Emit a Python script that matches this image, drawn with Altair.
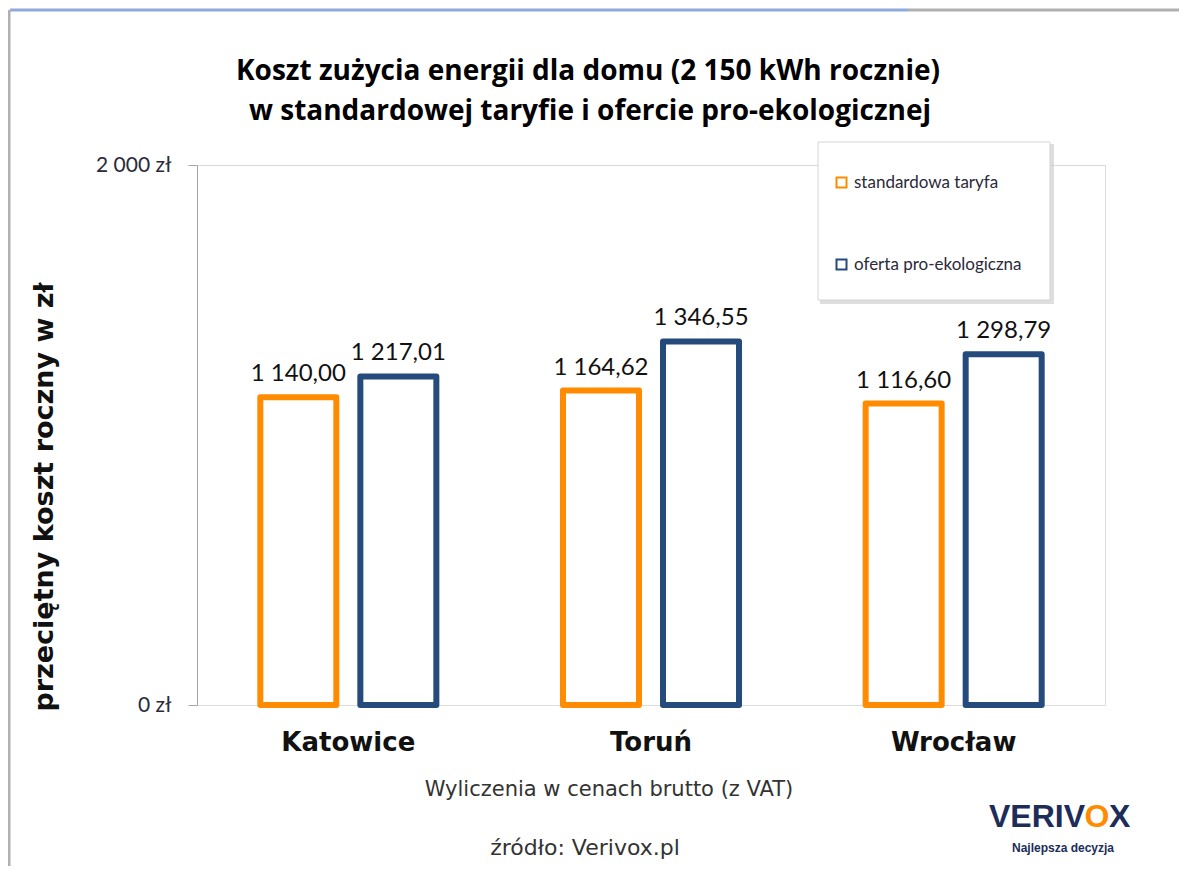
import altair as alt
import pandas as pd

# ---- data ----
cities = ["Katowice", "Toruń", "Wrocław"]
series_names = ["standardowa taryfa", "oferta pro-ekologiczna"]
standard_values = [1140.00, 1164.62, 1116.60]
eco_values = [1217.01, 1346.55, 1298.79]
y_ticks = [0, 2000]

title_lines = ["Koszt zużycia energii dla domu (2 150 kWh rocznie)",
               "w standardowej taryfie  i ofercie pro-ekologicznej"]
y_title = "przeciętny koszt roczny w zł"
note_text = "Wyliczenia w cenach brutto (z VAT)"
source_text = "źródło: Verivox.pl"

ORANGE = "#FF8C00"
BLUE = "#254A7C"
NAVY = "#1C2D5A"


def pl_fmt(v):
    return f"{v:,.2f}".replace(",", " ").replace(".", ",")


rows = []
for c, s, e in zip(cities, standard_values, eco_values):
    rows.append({"city": c, "series": series_names[0], "value": s, "label": pl_fmt(s)})
    rows.append({"city": c, "series": series_names[1], "value": e, "label": pl_fmt(e)})
df = pd.DataFrame(rows)

one = pd.DataFrame({"k": [0]})

W, H = 908, 540

x_enc = alt.X("city:N", sort=cities,
              scale=alt.Scale(paddingInner=0, paddingOuter=0),
              axis=alt.Axis(title=None, domain=False, ticks=False, labelAngle=0,
                            labelFont="DejaVu Sans", labelFontWeight="bold",
                            labelFontSize=26, labelColor="#111", labelPadding=24))
xo_enc = alt.XOffset("series:N", sort=series_names,
                     scale=alt.Scale(paddingInner=0.24, paddingOuter=0.633))
y_enc = alt.Y("value:Q", scale=alt.Scale(domain=[0, 2000]),
              axis=alt.Axis(title=None, values=y_ticks,
                            labelExpr="replace(format(datum.value, ','), ',', ' ') + ' zł'",
                            labelFont="Lato", labelFontSize=21, labelColor="#2a2a3a",
                            domainColor="#a6a6a6", tickColor="#a6a6a6", tickSize=9,
                            labelPadding=17,
                            gridColor="#d9d9d9",
                            gridOpacity={"condition": {"test": "datum.value === 0", "value": 0}, "value": 1}))

# legend box (drawn beneath legend)
shadow = alt.Chart(one).mark_rect(fill="#c8c8c8", opacity=0.6).encode(
    x=alt.value(623), x2=alt.value(857), y=alt.value(-21), y2=alt.value(139))
box = alt.Chart(one).mark_rect(fill="white", stroke="#d4d4d4", strokeWidth=1).encode(
    x=alt.value(621), x2=alt.value(853), y=alt.value(-23), y2=alt.value(135))

bars = alt.Chart(df).mark_bar(fill="white", strokeWidth=6, strokeJoin="round").encode(
    x=x_enc, xOffset=xo_enc, y=y_enc,
    stroke=alt.Stroke("series:N", sort=series_names,
                      scale=alt.Scale(domain=series_names, range=[ORANGE, BLUE]),
                      legend=alt.Legend(title=None, orient="none", legendX=636, legendY=9,
                                        padding=0, rowPadding=63, symbolType="square",
                                        symbolSize=100, symbolStrokeWidth=2,
                                        symbolFillColor="white", labelFont="Lato",
                                        labelFontSize=17, labelColor="#2a2a3a",
                                        labelOffset=4, labelLimit=400)),
)

labels = alt.Chart(df).mark_text(font="Lato", fontSize=24, color="#111",
                                 baseline="alphabetic", dy=-16).encode(
    x=alt.X("city:N", sort=cities), xOffset=alt.XOffset("series:N", sort=series_names),
    y="value:Q", text="label:N")


def txt(text, x, y, **kw):
    return alt.Chart(one).mark_text(text=text, **kw).encode(x=alt.value(x), y=alt.value(y))


t1 = txt(title_lines[0], 391, -93, font="Open Sans", fontSize=28, fontWeight="bold",
         color="#000", align="center", baseline="middle")
t2 = txt(title_lines[1], 393, -53, font="Open Sans", fontSize=28, fontWeight="bold",
         color="#000", align="center", baseline="middle")
ytitle = txt(y_title, -152, 332, font="DejaVu Sans", fontSize=27, fontWeight="bold",
             color="#111", align="center", baseline="middle", angle=270)
note = txt(note_text, 412, 625, font="DejaVu Sans", fontSize=21, color="#333",
           align="center", baseline="middle")
src = txt(source_text, 388, 683, font="DejaVu Sans", fontSize=22, color="#333",
          align="center", baseline="middle")
logo1 = txt("VERIV", 888, 662, font="Liberation Sans", fontSize=32, fontWeight="bold",
            color=NAVY, align="right", baseline="alphabetic")
logo2 = txt("O", 900, 662, font="Liberation Sans", fontSize=32, fontWeight="bold",
            color=ORANGE, align="center", baseline="alphabetic")
logo3 = txt("X", 912, 662, font="Liberation Sans", fontSize=32, fontWeight="bold",
            color=NAVY, align="left", baseline="alphabetic")
tag = txt("Najlepsza decyzja", 866, 687, font="Liberation Sans", fontSize=12,
          fontWeight="bold", color=NAVY, align="center", baseline="alphabetic")

frame_top_blue = alt.Chart(one).mark_rule(color="#8eaadb", strokeWidth=3).encode(
    x=alt.value(-187), x2=alt.value(711), y=alt.value(-155))
frame_top_gray = alt.Chart(one).mark_rule(color="#b0b0b0", strokeWidth=3).encode(
    x=alt.value(711), x2=alt.value(990), y=alt.value(-155))
frame_left = alt.Chart(one).mark_rule(color="#b0b0b0", strokeWidth=3).encode(
    x=alt.value(-188), y=alt.value(-155), y2=alt.value(712))

chart = alt.layer(
    frame_top_blue, frame_top_gray, frame_left,
    shadow, box, bars, labels,
    t1, t2, ytitle, note, src, logo1, logo2, logo3, tag,
).properties(
    width=W, height=H,
    autosize=alt.AutoSizeParams(type="none"),
    padding={"left": 189, "top": 157, "right": 74, "bottom": 161},
).configure_view(stroke=None).configure(background="white")

chart.save("out.html", embed_options={"renderer": "svg", "actions": False})
